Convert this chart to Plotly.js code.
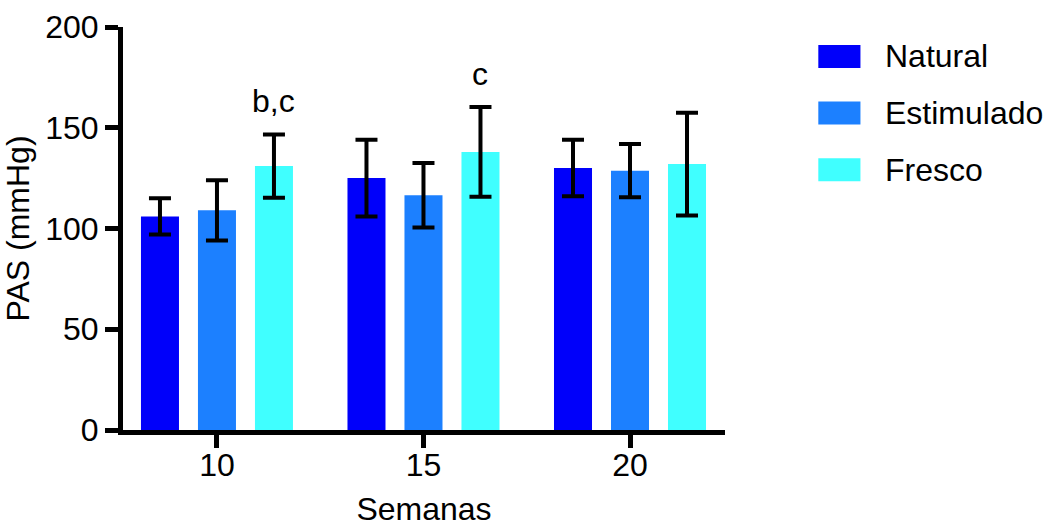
<!DOCTYPE html>
<html>
<head>
<meta charset="utf-8">
<script src="https://cdn.plot.ly/plotly-3.0.1.min.js"></script>
<style>html,body{margin:0;padding:0;background:#fff;}#chart{width:1048px;height:527px;}</style>
</head>
<body>
<div id="chart"></div>
<script>
// Data
const weeks = ["10", "15", "20"];
const seriesNames = ["Natural", "Estimulado", "Fresco"];
const seriesColors = ["#0000FA", "#1C80FF", "#40FFFF"];
const naturalMean = [106, 125, 130];
const naturalErr = [9, 19, 14];
const estimuladoMean = [109, 116.5, 128.7];
const estimuladoErr = [15, 16, 13.2];
const frescoMean = [131, 138, 132];
const frescoErr = [15.7, 22.3, 25.5];
const sigLabels = ["b,c", "c", ""]; // over Fresco bars
const yTicks = [0, 50, 100, 150, 200];

const means = [naturalMean, estimuladoMean, frescoMean];
const errs = [naturalErr, estimuladoErr, frescoErr];
const FONT = "Liberation Sans, Arial, Helvetica, sans-serif";
const FS = 32;

const traces = seriesNames.map((name, i) => ({
  type: "bar",
  name: name,
  x: weeks,
  y: means[i],
  marker: { color: seriesColors[i], line: { width: 0 } },
  error_y: { type: "data", array: errs[i], visible: true, color: "#000", thickness: 4, width: 11 },
  showlegend: false,
  hoverinfo: "x+y"
}));

// significance annotations above Fresco bars (offset group index 2 of 3)
const annotations = [];
weeks.forEach((w, k) => {
  if (sigLabels[k]) {
    annotations.push({
      xref: "x", yref: "y",
      x: k + 0.2755, y: frescoMean[k] + frescoErr[k],
      text: sigLabels[k], showarrow: false,
      yanchor: "bottom", yshift: 13,
      font: { family: FONT, size: FS, color: "#000" }
    });
  }
});

// manual legend (large swatches)
const shapes = [];
seriesNames.forEach((name, i) => {
  const yc = 0.927 - i * 0.1405;
  shapes.push({
    type: "rect", xref: "paper", yref: "paper",
    x0: 1.155, x1: 1.225, y0: yc - 0.0285, y1: yc + 0.0285,
    fillcolor: seriesColors[i], line: { width: 0 }
  });
  annotations.push({
    xref: "paper", yref: "paper", x: 1.262, y: yc,
    text: name, showarrow: false, xanchor: "left", yanchor: "middle",
    font: { family: FONT, size: FS, color: "#000" }
  });
});

const layout = {
  width: 1048, height: 527,
  margin: { l: 123, r: 323, t: 27, b: 97 },
  paper_bgcolor: "#fff", plot_bgcolor: "#fff",
  barmode: "group", bargap: 0.172, bargroupgap: 0.333,
  font: { family: FONT, size: FS, color: "#000" },
  xaxis: {
    type: "category", range: [-0.455, 2.46],
    showline: true, linecolor: "#000", linewidth: 5,
    ticks: "outside", ticklen: 13, tickwidth: 5, tickcolor: "#000",
    showgrid: false, zeroline: false,
    tickfont: { family: FONT, size: FS },
    ticklabelstandoff: -10,
    title: { text: "Semanas", font: { family: FONT, size: FS }, standoff: 22 }
  },
  yaxis: {
    range: [0, 200], tickvals: yTicks,
    showline: true, linecolor: "#000", linewidth: 5,
    ticks: "outside", ticklen: 13, tickwidth: 5, tickcolor: "#000",
    showgrid: false, zeroline: false,
    tickfont: { family: FONT, size: FS },
    title: { text: "PAS (mmHg)", font: { family: FONT, size: FS }, standoff: 10 }
  },
  annotations: annotations,
  shapes: shapes
};

Plotly.newPlot("chart", traces, layout, { displayModeBar: false, staticPlot: true });
</script>
</body>
</html>
